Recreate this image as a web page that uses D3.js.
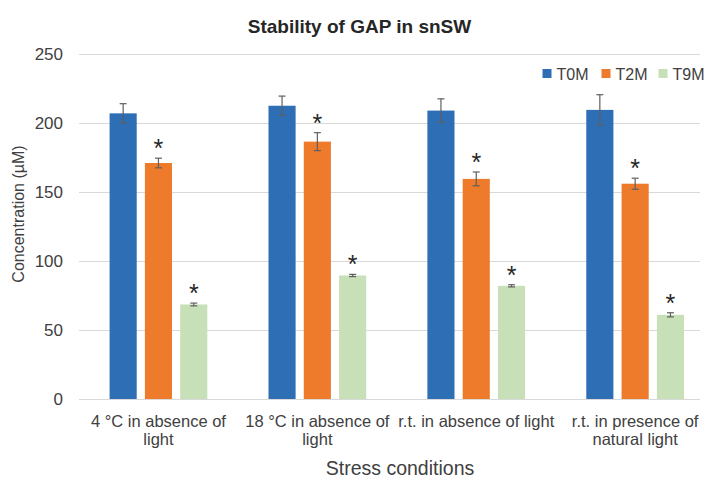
<!DOCTYPE html>
<html>
<head>
<meta charset="utf-8">
<script src="https://cdn.jsdelivr.net/npm/d3@7"></script>
<style>
  html, body { margin: 0; padding: 0; background: #fff; }
  svg { display: block; font-family: "Liberation Sans", Arial, sans-serif; }
</style>
</head>
<body>
<svg id="chart" width="710" height="480"></svg>
<script>
// Category labels (line breaks marked with \n)
const categories = [
  "4 °C in absence of\nlight",
  "18 °C in absence of\nlight",
  "r.t. in absence of light",
  "r.t. in presence of\nnatural light"
];
const seriesNames = ["T0M", "T2M", "T9M"];
const seriesColors = ["#2E6EB5", "#EE7A2C", "#C8E0B8"];

// Mean concentrations (µM) per category
const t0m = [207, 212.5, 209, 209.5];
const t2m = [171, 186.5, 159.5, 156];
const t9m = [68.5, 89.5, 82, 61];

// Standard deviations
const t0mErr = [7, 7, 8.5, 11];
const t2mErr = [3.5, 6.5, 5, 4];
const t9mErr = [1, 0.8, 0.8, 1.5];

// Significance marks (asterisk) per series
const t0mSig = [false, false, false, false];
const t2mSig = [true, true, true, true];
const t9mSig = [true, true, true, true];

const yTicks = [0, 50, 100, 150, 200, 250];

const title = "Stability of GAP in snSW";
const xTitle = "Stress conditions";
const yTitle = "Concentration (µM)";

const values = [t0m, t2m, t9m];
const errs = [t0mErr, t2mErr, t9mErr];
const sigs = [t0mSig, t2mSig, t9mSig];

const svg = d3.select("#chart");
const gridLeft = 79, gridRight = 700;

const x0 = d3.scaleBand()
  .domain(d3.range(categories.length))
  .range([79, 714.6])
  .paddingInner(0.385)
  .paddingOuter(0.1925);

const x1 = d3.scaleBand()
  .domain(d3.range(seriesNames.length))
  .range([0, x0.bandwidth()])
  .paddingInner(0.232)
  .paddingOuter(0);

const y = d3.scaleLinear().domain([0, 250]).range([399, 54]);

// Gridlines
svg.append("g")
  .selectAll("line")
  .data(yTicks)
  .join("line")
  .attr("x1", gridLeft).attr("x2", gridRight)
  .attr("y1", d => Math.round(y(d)) + 0.5)
  .attr("y2", d => Math.round(y(d)) + 0.5)
  .attr("stroke", "#d9d9d9")
  .attr("stroke-width", 1.2);

// Y axis tick labels
const yAxis = d3.axisLeft(y).tickValues(yTicks).tickSize(0).tickPadding(0);
const yg = svg.append("g").attr("transform", "translate(63,0)").call(yAxis);
yg.select(".domain").remove();
yg.selectAll("text")
  .attr("font-size", 17)
  .attr("fill", "#404040")
  .attr("font-family", "Liberation Sans, Arial, sans-serif");

// Bars, error bars, asterisks
const rows = [];
categories.forEach((c, i) => {
  seriesNames.forEach((s, j) => {
    rows.push({ i, j, v: values[j][i], e: errs[j][i], sig: sigs[j][i] });
  });
});

const bars = svg.append("g");
bars.selectAll("rect")
  .data(rows)
  .join("rect")
  .attr("x", d => x0(d.i) + x1(d.j))
  .attr("width", x1.bandwidth())
  .attr("y", d => y(d.v))
  .attr("height", d => y(0) - y(d.v))
  .attr("fill", d => seriesColors[d.j]);

const eb = svg.append("g").attr("stroke", "#5f5f5f").attr("stroke-width", 1.2).attr("fill", "none");
rows.forEach(d => {
  const cx = x0(d.i) + x1(d.j) + x1.bandwidth() / 2;
  const top = y(d.v + d.e), bot = y(d.v - d.e);
  eb.append("line").attr("x1", cx).attr("x2", cx).attr("y1", top).attr("y2", bot);
  eb.append("line").attr("x1", cx - 3.5).attr("x2", cx + 3.5).attr("y1", top).attr("y2", top);
  eb.append("line").attr("x1", cx - 3.5).attr("x2", cx + 3.5).attr("y1", bot).attr("y2", bot);
});

svg.append("g")
  .selectAll("text")
  .data(rows.filter(d => d.sig))
  .join("text")
  .attr("x", d => x0(d.i) + x1(d.j) + x1.bandwidth() / 2)
  .attr("y", d => y(d.v + d.e) - 1)
  .attr("text-anchor", "middle")
  .attr("font-size", 25)
  .attr("fill", "#262626")
  .text("*");

// Category labels
const catG = svg.append("g");
categories.forEach((c, i) => {
  const cx = x0(i) + x0.bandwidth() / 2;
  const t = catG.append("text")
    .attr("text-anchor", "middle")
    .attr("font-size", 16.5)
    .attr("fill", "#404040");
  c.split("\n").forEach((line, k) => {
    t.append("tspan").attr("x", cx).attr("y", 427 + k * 18).text(line);
  });
});

// Titles
svg.append("text")
  .attr("x", 359.5).attr("y", 33)
  .attr("text-anchor", "middle")
  .attr("font-size", 19)
  .attr("font-weight", "bold")
  .attr("fill", "#262626")
  .text(title);

svg.append("text")
  .attr("x", 400).attr("y", 475)
  .attr("text-anchor", "middle")
  .attr("font-size", 19.5)
  .attr("fill", "#404040")
  .text(xTitle);

svg.append("text")
  .attr("transform", "translate(24,214) rotate(-90)")
  .attr("text-anchor", "middle")
  .attr("font-size", 16)
  .attr("fill", "#404040")
  .text(yTitle);

// Legend
const legendX = [542.5, 601.5, 658.5];
const lg = svg.append("g");
seriesNames.forEach((s, j) => {
  lg.append("rect")
    .attr("x", legendX[j]).attr("y", 69)
    .attr("width", 9).attr("height", 9)
    .attr("fill", seriesColors[j]);
  lg.append("text")
    .attr("x", legendX[j] + 14).attr("y", 80)
    .attr("font-size", 16)
    .attr("fill", "#404040")
    .text(s);
});
</script>
</body>
</html>
